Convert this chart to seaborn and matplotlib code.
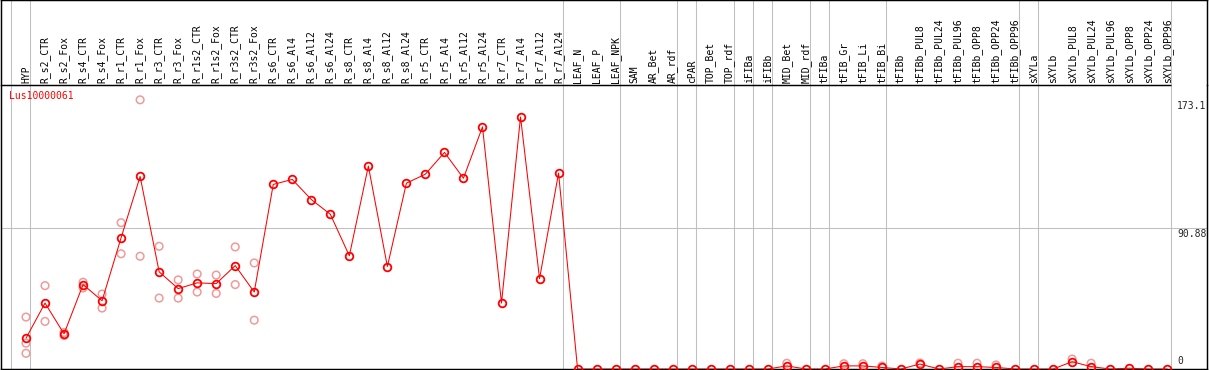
"""
Expression profile of Lus10000061 across tissues / treatments.
Means as red line with circles, replicates as faint circles.
"""

import pandas as pd
import numpy as np
import matplotlib
matplotlib.use('Agg')
import matplotlib.pyplot as plt
import matplotlib.transforms as mtransforms
import seaborn as sns

# ============================================================================
# DATA
# ============================================================================

GENE = 'Lus10000061'

categories = [
    'HYP', 'R_s2_CTR', 'R_s2_Fox', 'R_s4_CTR', 'R_s4_Fox', 'R_r1_CTR', 'R_r1_Fox',
    'R_r3_CTR', 'R_r3_Fox', 'R_r1s2_CTR', 'R_r1s2_Fox', 'R_r3s2_CTR', 'R_r3s2_Fox',
    'R_s6_CTR', 'R_s6_Al4', 'R_s6_Al12', 'R_s6_Al24', 'R_s8_CTR', 'R_s8_Al4',
    'R_s8_Al12', 'R_s8_Al24', 'R_r5_CTR', 'R_r5_Al4', 'R_r5_Al12', 'R_r5_Al24',
    'R_r7_CTR', 'R_r7_Al4', 'R_r7_Al12', 'R_r7_Al24', 'LEAF_N', 'LEAF_P', 'LEAF_NPK',
    'SAM', 'AR_Bet', 'AR_rdf', 'cPAR', 'TOP_Bet', 'TOP_rdf', 'iFIBa', 'iFIBb',
    'MID_Bet', 'MID_rdf', 'tFIBa', 'tFIB_Gr', 'tFIB_Li', 'tFIB_Bi', 'tFIBb',
    'tFIBb_PUL8', 'tFIBb_PUL24', 'tFIBb_PUL96', 'tFIBb_OPP8', 'tFIBb_OPP24',
    'tFIBb_OPP96', 'sXYLa', 'sXYLb', 'sXYLb_PUL8', 'sXYLb_PUL24', 'sXYLb_PUL96',
    'sXYLb_OPP8', 'sXYLb_OPP24', 'sXYLb_OPP96'
]

mean_values = [
    19.8, 42.4, 22.6, 54.3, 43.9, 84.4, 123.8,
    62.5, 51.7, 55.4, 54.9, 66.5, 49.5,
    118.7, 121.9, 109.0, 99.5, 72.8, 130.5,
    65.9, 119.5, 125.3, 139.3, 122.7, 155.7,
    42.4, 162.1, 58.1, 126.0, 0, 0, 0,
    0, 0, 0, 0, 0, 0, 0, 0,
    2.0, 0, 0, 2.0, 2.0, 1.0, 0,
    3.2, 0, 1.5, 1.5, 1.0,
    0, 0, 0, 4.7, 1.5, 0,
    0.5, 0, 0
]

# replicates (only where they are visible apart from the mean)
rep_cats = [
    'HYP', 'HYP', 'HYP', 'R_s2_CTR', 'R_s2_CTR', 'R_s2_Fox', 'R_s2_Fox',
    'R_s4_CTR', 'R_s4_CTR', 'R_s4_Fox', 'R_s4_Fox', 'R_r1_CTR', 'R_r1_CTR',
    'R_r1_Fox', 'R_r1_Fox', 'R_r3_CTR', 'R_r3_CTR', 'R_r3_Fox', 'R_r3_Fox',
    'R_r1s2_CTR', 'R_r1s2_CTR', 'R_r1s2_Fox', 'R_r1s2_Fox',
    'R_r3s2_CTR', 'R_r3s2_CTR', 'R_r3s2_Fox', 'R_r3s2_Fox',
    'MID_Bet', 'tFIB_Gr', 'tFIB_Li', 'tFIB_Bi', 'tFIBb_PUL8', 'tFIBb_PUL96',
    'tFIBb_OPP8', 'tFIBb_OPP24', 'sXYLb_PUL8', 'sXYLb_PUL24'
]
rep_values = [
    33.4, 16.6, 10.1, 53.6, 30.6, 23.5, 21.5,
    55.8, 52.1, 48.2, 39.2, 94.1, 74.1,
    173.1, 72.5, 78.9, 45.6, 57.3, 45.6,
    61.1, 49.5, 60.4, 48.6,
    78.5, 54.3, 68.2, 31.4,
    3.7, 3.4, 3.4, 1.9, 3.9, 3.7,
    3.7, 2.6, 6.4, 3.7
]

# last category of each group (separator lines)
group_ends = ['HYP', 'R_r7_Al24', 'LEAF_NPK', 'AR_rdf', 'cPAR', 'TOP_rdf', 'iFIBa',
              'iFIBb', 'MID_rdf', 'tFIBa', 'tFIB_Bi', 'tFIBb_OPP96', 'sXYLa',
              'sXYLb_OPP96']

ytick_values = [173.1, 90.88, 0]
ytick_labels = ['173.1', '90.88', '0']

# ============================================================================
# PREPARE
# ============================================================================

pos = {c: i for i, c in enumerate(categories)}
df_mean = pd.DataFrame({'cat': categories, 'value': mean_values})
df_mean['x'] = df_mean['cat'].map(pos)
df_rep = pd.DataFrame({'cat': rep_cats, 'value': rep_values})
df_rep['x'] = df_rep['cat'].map(pos)

sns.set_style('white')
plt.rcParams['font.family'] = ['DejaVu Sans Mono']

W, H = 1209, 370
fig = plt.figure(figsize=(W / 100, H / 100), dpi=100)

# pixel layout
x_left, x_right = 1, 1207
y_head = 85            # bottom of the label header (px from top)
y_bot = 369            # baseline (px from top)
x0_px, dx_px = 26, 19.02
px_per_unit = 1.555
LW = 0.75              # ~1 px

ax = fig.add_axes([x_left / W, (H - y_bot) / H, (x_right - x_left) / W, (y_bot - y_head) / H])
axh = fig.add_axes([x_left / W, (H - y_head) / H, (x_right - x_left) / W, y_head / H], sharex=ax)

xlim = ((x_left - x0_px) / dx_px, (x_right - x0_px) / dx_px)
ax.set_xlim(*xlim)
ax.set_ylim(0, (y_bot - y_head) / px_per_unit)
axh.set_ylim(0, 1)

# separators
off = 4 / dx_px
sep_x = [-1 + off] + [pos[c] + off for c in group_ends]
for a in (ax, axh):
    for sx in sep_x:
        a.axvline(sx, color='#c0c0c0', lw=LW, zorder=0)
ax.axhline(90.88, color='#c0c0c0', lw=LW, zorder=0)

# header bottom line stops at the last separator
axh.plot([xlim[0], sep_x[-1]], [0, 0], color='black', lw=LW * 1.4,
         clip_on=False, zorder=5, solid_capstyle='butt')

# replicates
sns.scatterplot(data=df_rep, x='x', y='value', ax=ax, marker='o', s=30,
                facecolors='none', edgecolor='#f09a9a', linewidth=1.1, zorder=2,
                legend=False)
# means
sns.lineplot(data=df_mean, x='x', y='value', ax=ax, color='red', lw=LW,
             marker='o', markersize=5.5, markerfacecolor='none',
             markeredgecolor='red', markeredgewidth=1.3, zorder=3,
             legend=False, errorbar=None)

# header labels
trans_h = mtransforms.blended_transform_factory(axh.transData, axh.transAxes)
for c in categories:
    axh.text(pos[c], 2 / y_head, c, rotation=90, ha='center', va='bottom',
             fontsize=7, color='black', transform=trans_h)

# y labels on the right, inside the plot
trans_y = mtransforms.blended_transform_factory(ax.transAxes, ax.transData)
xl = (1177 - x_left) / (x_right - x_left)
for v, lab in zip(ytick_values, ytick_labels):
    if v == 0:
        ax.text(xl, 3 / px_per_unit, lab, ha='left', va='bottom', fontsize=7,
                transform=trans_y)
    else:
        ax.text(xl, v - 1 / px_per_unit, lab, ha='left', va='top', fontsize=7,
                transform=trans_y)

ax.text(8 / (x_right - x_left), 1 - 6 / (y_bot - y_head), GENE, color='red',
        fontsize=7, ha='left', va='top', transform=ax.transAxes)

for a in (ax, axh):
    a.set_xticks([])
    a.set_yticks([])
    a.set_xlabel('')
    a.set_ylabel('')
    for s in a.spines.values():
        s.set_color('black')
        s.set_linewidth(LW * 1.4)
axh.spines['bottom'].set_visible(False)
ax.spines['top'].set_visible(False)

fig.savefig('out.png', dpi=100)
plt.close(fig)
